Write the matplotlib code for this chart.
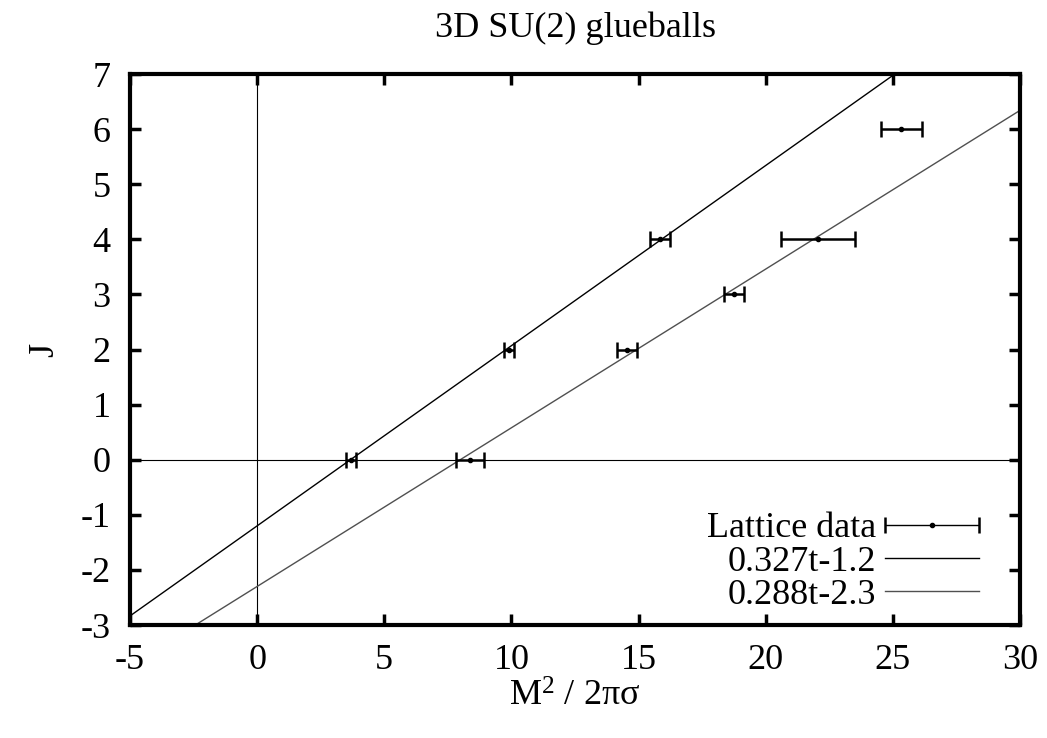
import numpy as np
import matplotlib
matplotlib.use('Agg')
import matplotlib.pyplot as plt
from matplotlib.legend_handler import HandlerErrorbar

# Glueball masses (M^2 / 2 pi sigma) and spins
j_vals   = [0, 0, 2, 2, 3, 4, 4, 6]
m2_vals  = [3.69, 8.37, 9.90, 14.54, 18.75, 15.84, 22.07, 25.33]
m2_errs  = [0.20, 0.55, 0.20, 0.40, 0.39, 0.39, 1.45, 0.80]

# Regge trajectory fits J = a*t + b
fit_a = [0.327, 0.288]
fit_b = [-1.2, -2.3]
fit_labels = ['0.327t-1.2', '0.288t-2.3']
fit_colors = ['black', '#505050']

plt.rcParams['font.family'] = ['Liberation Serif', 'DejaVu Serif']
plt.rcParams['mathtext.fontset'] = 'custom'
plt.rcParams['mathtext.rm'] = 'Liberation Serif'
plt.rcParams['mathtext.it'] = 'Liberation Serif:italic'
plt.rcParams['axes.unicode_minus'] = False
fs = 26

fig = plt.figure(figsize=(10.47, 7.38), dpi=100)
ax = fig.add_axes([0.1242, 0.1531, 0.85, 0.7466])

# zero axes
ax.axhline(0, color='black', lw=0.8, zorder=1)
ax.axvline(0, color='black', lw=0.8, zorder=1)

eb = ax.errorbar(m2_vals, j_vals, xerr=m2_errs, fmt='o', ms=3, color='black',
                 ecolor='black', elinewidth=1.8, capsize=6, capthick=1.8,
                 label='Lattice data', zorder=3)

t = np.linspace(-5, 30, 200)
lines = []
for a, b, lab, c in zip(fit_a, fit_b, fit_labels, fit_colors):
    ln, = ax.plot(t, a * t + b, color=c, lw=1.0, label=lab, zorder=2)
    lines.append(ln)

ax.set_xlim(-5, 30)
ax.set_ylim(-3, 7)
ax.set_xticks(np.arange(-5, 31, 5))
ax.set_yticks(np.arange(-3, 8, 1))
ax.tick_params(direction='in', length=8, width=2.5, top=True, right=True,
               pad=14, labelsize=fs)
for sp in ax.spines.values():
    sp.set_linewidth(3)

ax.set_title('3D SU(2) glueballs', fontsize=fs, pad=27)
ax.set_xlabel('M$^2$ / 2πσ', fontsize=fs, labelpad=2)
ax.set_ylabel('J', fontsize=fs, labelpad=14)

leg = ax.legend([eb] + lines, ['Lattice data'] + fit_labels,
                loc='lower right', bbox_to_anchor=(0.99, -0.035), frameon=False,
                markerfirst=False, handlelength=2.6, handletextpad=0.25,
                labelspacing=0.0, fontsize=fs,
                handler_map={type(eb): HandlerErrorbar(xerr_size=1.3)})
for h in leg.legend_handles:
    h.set_linewidth(1.0)

fig.savefig('out.png', dpi=100)
